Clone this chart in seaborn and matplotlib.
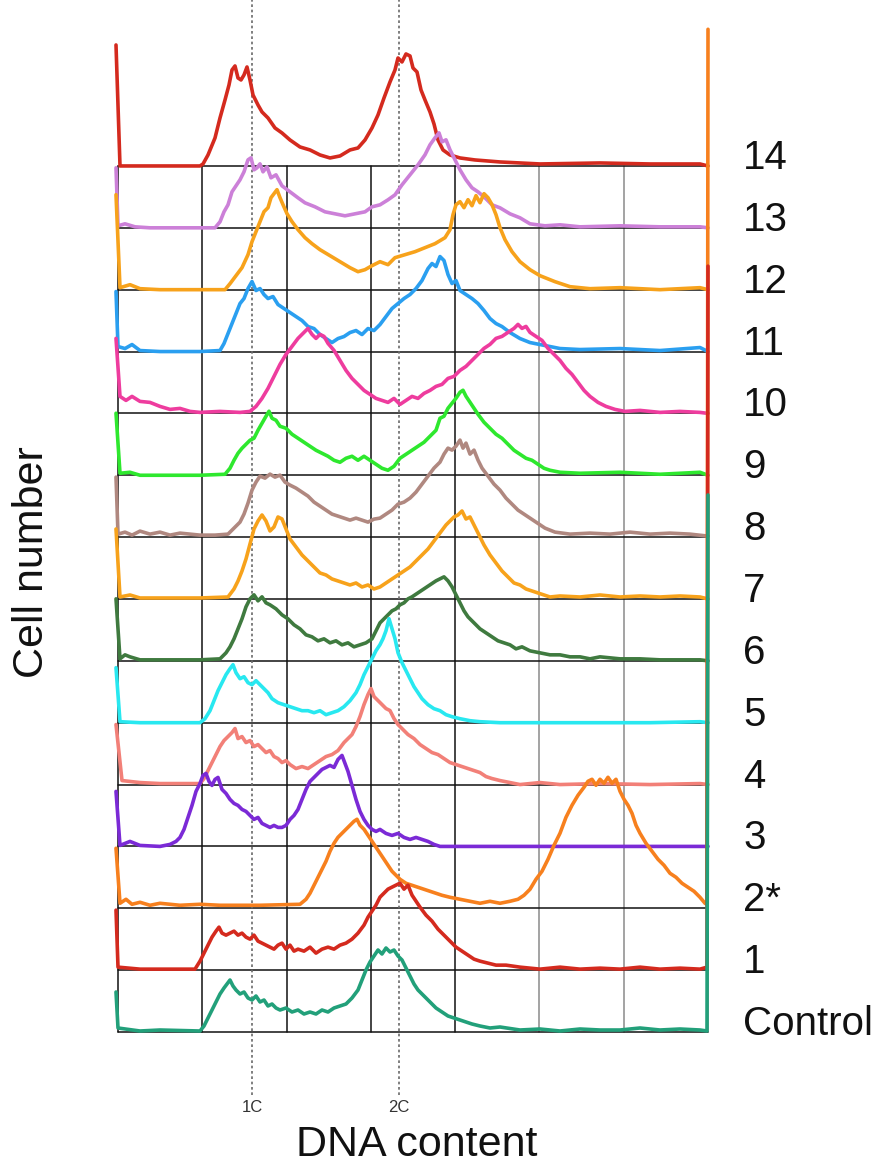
import numpy as np
import pandas as pd
import matplotlib
matplotlib.use("Agg")
import matplotlib.pyplot as plt
import seaborn as sns

# DNA-content histograms (channel, cell count) for each sample
control = [(-2, 40), (0, 4), (22, 1), (42, 2), (82, 1), (86, 6), (90, 14), (94, 22), (98, 30), (102, 38), (106, 44),
           (109, 48), (112, 52), (115, 46), (118, 42), (122, 38), (126, 40), (130, 34), (134, 32), (138, 36),
           (142, 30), (146, 32), (150, 26), (154, 28), (158, 24), (162, 22), (168, 24), (174, 20), (180, 22),
           (186, 18), (192, 20), (198, 18), (204, 22), (210, 20), (216, 24), (222, 26), (228, 28), (234, 34),
           (240, 42), (244, 52), (248, 62), (252, 70), (256, 76), (260, 82), (264, 78), (268, 84), (272, 80),
           (276, 82), (280, 76), (284, 72), (288, 64), (292, 56), (296, 48), (300, 42), (306, 36), (312, 30),
           (318, 24), (324, 20), (330, 16), (336, 14), (342, 12), (348, 10), (354, 8), (362, 6), (372, 4),
           (382, 5), (402, 2), (422, 3), (442, 1), (462, 3), (482, 2), (502, 2), (522, 4), (542, 2), (562, 3),
           (582, 2), (589, 1), (590, 537)]

cell_1 = [(-2, 60), (0, 3), (22, 1), (77, 1), (82, 9), (86, 17), (90, 25), (94, 33), (98, 39), (101, 43), (104, 37),
          (108, 35), (112, 37), (116, 39), (120, 35), (124, 37), (128, 33), (132, 31), (136, 35), (140, 29),
          (144, 27), (148, 25), (152, 23), (156, 21), (160, 25), (164, 27), (168, 21), (172, 25), (176, 19),
          (180, 21), (186, 19), (192, 23), (198, 17), (204, 21), (210, 23), (216, 21), (222, 25), (228, 27),
          (234, 31), (240, 37), (246, 45), (250, 53), (254, 59), (258, 65), (262, 73), (266, 77), (270, 81),
          (274, 83), (278, 85), (282, 87), (286, 81), (290, 85), (294, 75), (298, 69), (302, 63), (308, 55),
          (314, 49), (320, 41), (326, 35), (332, 29), (338, 23), (344, 19), (350, 15), (356, 11), (362, 9),
          (370, 7), (378, 5), (388, 5), (402, 3), (422, 1), (442, 3), (462, 1), (482, 2), (502, 1), (522, 3),
          (542, 1), (562, 2), (582, 1), (589, 3), (590, 704)]

cell_2 = [(-2, 60), (2, 5), (8, 9), (14, 4), (22, 6), (32, 3), (42, 5), (62, 3), (82, 4), (102, 3), (142, 3),
          (182, 4), (188, 9), (192, 15), (196, 23), (200, 31), (204, 39), (208, 47), (212, 57), (216, 65),
          (220, 71), (224, 75), (228, 79), (232, 83), (236, 87), (239, 89), (242, 83), (246, 79), (250, 73),
          (254, 67), (258, 61), (262, 55), (266, 49), (270, 43), (274, 37), (278, 33), (282, 29), (288, 25),
          (294, 23), (300, 21), (306, 19), (312, 17), (318, 15), (324, 13), (332, 11), (342, 9), (352, 7),
          (362, 5), (372, 7), (382, 5), (392, 7), (400, 9), (406, 13), (412, 19), (418, 29), (424, 37),
          (430, 49), (436, 63), (442, 75), (448, 91), (454, 103), (460, 113), (466, 121), (470, 127),
          (474, 129), (478, 123), (482, 129), (486, 125), (490, 131), (494, 125), (498, 129), (502, 117),
          (506, 109), (510, 103), (514, 95), (518, 83), (522, 75), (528, 65), (534, 57), (540, 49), (546, 43),
          (552, 35), (558, 31), (564, 25), (570, 21), (576, 17), (582, 11), (587, 5), (589, 4), (590, 879)]

cell_3 = [(-2, 55), (2, 1), (12, 5), (22, 1), (42, 0), (52, 2), (58, 5), (62, 9), (66, 17), (70, 29), (74, 41),
          (78, 55), (82, 63), (85, 71), (88, 73), (91, 65), (94, 61), (97, 67), (100, 69), (104, 57), (108, 53),
          (112, 47), (116, 43), (120, 41), (124, 37), (128, 35), (132, 31), (136, 27), (140, 29), (144, 23),
          (148, 21), (152, 19), (156, 21), (160, 19), (164, 19), (168, 21), (172, 27), (176, 31), (180, 37),
          (184, 47), (188, 57), (192, 65), (196, 69), (200, 73), (204, 77), (208, 79), (212, 81), (216, 79),
          (220, 87), (224, 91), (227, 83), (230, 75), (234, 61), (238, 47), (242, 35), (246, 27), (250, 21),
          (254, 17), (258, 15), (262, 17), (268, 13), (274, 11), (280, 13), (286, 9), (292, 7), (298, 9),
          (304, 7), (310, 5), (316, 2), (322, 0), (382, 0), (442, 0), (502, 0), (542, 0), (582, 0), (590, 0)]

cell_4 = [(-2, 60), (4, 4), (22, 2), (42, 1), (82, 1), (86, 6), (90, 14), (94, 22), (98, 30), (102, 38), (106, 44),
          (110, 48), (114, 52), (117, 56), (120, 46), (124, 48), (128, 42), (132, 44), (136, 38), (140, 40),
          (144, 36), (148, 32), (152, 34), (156, 28), (160, 26), (164, 22), (168, 24), (172, 20), (178, 16),
          (184, 18), (190, 16), (196, 20), (202, 24), (208, 28), (214, 30), (220, 34), (226, 42), (230, 46),
          (234, 50), (238, 58), (242, 68), (246, 80), (250, 90), (253, 96), (256, 88), (260, 84), (264, 80),
          (268, 76), (272, 74), (276, 66), (280, 60), (284, 56), (290, 50), (296, 46), (302, 40), (308, 36),
          (314, 32), (320, 30), (326, 26), (332, 22), (338, 20), (344, 18), (350, 16), (356, 14), (362, 12),
          (368, 8), (374, 6), (382, 4), (392, 2), (402, 0), (422, 2), (442, 0), (482, 1), (532, 0), (582, 1),
          (590, 0)]

cell_5 = [(-2, 55), (2, 1), (22, 0), (82, 0), (87, 4), (92, 12), (96, 22), (100, 32), (104, 40), (108, 48),
          (112, 54), (115, 58), (118, 50), (122, 44), (126, 46), (130, 40), (134, 38), (138, 42), (142, 38),
          (146, 34), (150, 30), (154, 24), (160, 20), (166, 18), (172, 16), (178, 14), (184, 12), (190, 12),
          (196, 10), (202, 12), (208, 8), (214, 10), (220, 12), (226, 16), (232, 22), (238, 30), (242, 38),
          (246, 48), (250, 56), (254, 64), (258, 72), (262, 78), (265, 84), (268, 92), (271, 104), (274, 94),
          (277, 84), (280, 70), (284, 60), (288, 52), (292, 44), (296, 36), (300, 30), (304, 24), (310, 18),
          (316, 14), (322, 12), (328, 8), (334, 6), (342, 4), (352, 2), (362, 1), (382, 0), (422, 0), (482, 0),
          (532, 0), (582, 1), (590, 0)]

cell_6 = [(-2, 62), (2, 2), (7, 6), (12, 4), (22, 1), (82, 1), (102, 2), (108, 8), (112, 14), (116, 22), (120, 32),
          (124, 42), (128, 54), (132, 62), (136, 66), (140, 60), (144, 64), (148, 58), (152, 56), (158, 52),
          (164, 46), (170, 42), (176, 36), (182, 32), (188, 26), (194, 24), (200, 20), (206, 22), (212, 18),
          (218, 20), (224, 16), (230, 18), (236, 14), (242, 16), (248, 18), (254, 22), (258, 30), (262, 38),
          (266, 42), (270, 46), (274, 50), (278, 52), (282, 56), (286, 58), (290, 62), (294, 64), (300, 68),
          (306, 72), (312, 76), (318, 80), (322, 82), (326, 84), (330, 80), (334, 74), (338, 66), (342, 58),
          (346, 50), (350, 44), (356, 38), (362, 32), (368, 28), (374, 24), (380, 20), (386, 18), (392, 16),
          (398, 12), (404, 14), (412, 10), (422, 8), (432, 6), (442, 6), (452, 4), (462, 4), (472, 2), (482, 4),
          (502, 2), (522, 2), (542, 1), (582, 1), (590, 0)]

cell_7 = [(-2, 70), (2, 2), (12, 4), (22, 1), (82, 1), (110, 2), (116, 10), (120, 18), (124, 28), (128, 40),
          (132, 55), (136, 70), (140, 78), (144, 84), (148, 78), (152, 68), (156, 72), (160, 82), (164, 80),
          (168, 70), (172, 60), (178, 52), (184, 44), (190, 38), (196, 32), (202, 26), (208, 24), (214, 20),
          (220, 18), (226, 16), (232, 14), (238, 16), (244, 12), (250, 14), (256, 10), (262, 12), (268, 16),
          (274, 20), (280, 24), (286, 28), (292, 32), (298, 38), (304, 44), (310, 50), (316, 58), (322, 66),
          (328, 74), (332, 78), (336, 82), (340, 84), (344, 88), (348, 80), (352, 82), (356, 74), (360, 66),
          (366, 54), (372, 44), (378, 36), (384, 28), (390, 22), (396, 16), (402, 14), (408, 10), (414, 8),
          (420, 6), (426, 4), (432, 2), (442, 3), (462, 2), (482, 4), (502, 2), (522, 3), (542, 2), (562, 3),
          (582, 2), (590, 0)]

cell_8 = [(-2, 60), (0, 3), (7, 5), (14, 2), (22, 6), (32, 3), (42, 5), (52, 2), (62, 4), (72, 3), (82, 2), (97, 2),
          (110, 3), (116, 9), (122, 15), (126, 23), (130, 34), (134, 47), (138, 55), (142, 61), (147, 59),
          (152, 63), (157, 60), (162, 62), (167, 55), (172, 52), (178, 49), (184, 45), (190, 41), (196, 35),
          (202, 31), (208, 27), (214, 23), (220, 21), (226, 19), (232, 17), (238, 19), (244, 17), (250, 15),
          (256, 18), (262, 19), (268, 23), (274, 27), (280, 33), (286, 35), (292, 39), (298, 45), (304, 53),
          (310, 61), (316, 69), (322, 75), (326, 83), (330, 89), (334, 87), (338, 91), (342, 97), (345, 89),
          (348, 94), (352, 83), (356, 87), (360, 77), (364, 69), (370, 61), (376, 53), (382, 47), (388, 39),
          (394, 33), (400, 27), (406, 23), (412, 19), (418, 15), (427, 9), (437, 5), (452, 3), (472, 4),
          (492, 3), (512, 5), (532, 3), (552, 4), (572, 3), (590, 1)]

cell_9 = [(-2, 62), (2, 2), (12, 3), (22, 0), (82, 0), (107, 1), (112, 7), (116, 15), (120, 22), (124, 27),
          (128, 31), (132, 35), (136, 37), (140, 45), (144, 52), (148, 59), (151, 64), (154, 57), (158, 55),
          (162, 49), (168, 47), (174, 41), (180, 37), (186, 33), (192, 29), (198, 25), (204, 22), (210, 19),
          (216, 15), (222, 13), (228, 17), (234, 19), (240, 15), (246, 19), (252, 15), (258, 11), (264, 7),
          (270, 5), (276, 9), (282, 17), (288, 21), (294, 25), (300, 29), (306, 33), (312, 39), (318, 45),
          (322, 57), (326, 59), (330, 67), (334, 72), (338, 77), (342, 83), (345, 85), (348, 79), (352, 73),
          (356, 67), (360, 61), (366, 53), (372, 47), (378, 41), (384, 37), (390, 31), (396, 25), (402, 21),
          (408, 17), (414, 15), (420, 11), (426, 7), (432, 5), (442, 3), (462, 2), (502, 3), (542, 1),
          (582, 3), (590, 0)]

cell_10 = [(-2, 75), (2, 17), (8, 13), (14, 17), (22, 12), (32, 11), (42, 7), (52, 4), (62, 5), (72, 2), (82, 1),
           (102, 2), (122, 1), (132, 2), (138, 7), (144, 15), (150, 25), (156, 37), (162, 49), (168, 59),
           (174, 67), (180, 75), (186, 81), (190, 85), (194, 79), (198, 75), (202, 79), (206, 77), (210, 70),
           (216, 63), (222, 53), (228, 43), (234, 35), (240, 29), (246, 23), (252, 19), (258, 15), (264, 13),
           (270, 11), (276, 15), (282, 9), (288, 13), (294, 17), (300, 15), (306, 20), (312, 23), (318, 27),
           (324, 29), (330, 35), (336, 37), (342, 43), (348, 47), (354, 53), (360, 59), (366, 65), (372, 69),
           (378, 75), (384, 77), (390, 81), (396, 85), (400, 89), (404, 85), (408, 87), (412, 81), (418, 77),
           (424, 73), (430, 65), (436, 59), (442, 53), (448, 45), (454, 39), (460, 31), (466, 23), (472, 17),
           (480, 11), (488, 7), (497, 4), (507, 2), (522, 3), (542, 1), (562, 2), (582, 1), (590, 0)]

cell_11 = [(-2, 60), (0, 5), (7, 3), (14, 7), (22, 1), (42, 0), (82, 0), (102, 1), (106, 8), (110, 18), (114, 28),
           (118, 38), (122, 48), (126, 53), (130, 63), (134, 70), (138, 61), (142, 63), (146, 57), (150, 53),
           (155, 55), (160, 47), (166, 43), (172, 39), (178, 35), (184, 31), (190, 25), (196, 23), (202, 17),
           (208, 13), (214, 9), (220, 13), (226, 15), (232, 19), (238, 21), (244, 17), (250, 23), (256, 21),
           (262, 27), (268, 35), (274, 43), (280, 48), (286, 53), (292, 57), (298, 63), (304, 71), (310, 83),
           (314, 88), (318, 85), (322, 95), (326, 91), (330, 77), (334, 68), (338, 71), (342, 61), (348, 57),
           (354, 53), (360, 48), (366, 41), (372, 33), (378, 28), (384, 25), (392, 19), (402, 13), (412, 9),
           (422, 7), (432, 5), (442, 3), (462, 2), (502, 3), (542, 1), (582, 4), (590, 0)]

cell_12 = [(-2, 95), (2, 2), (12, 5), (22, 1), (42, 0), (82, 0), (107, 0), (112, 6), (118, 14), (124, 22),
           (130, 35), (134, 48), (138, 58), (142, 68), (146, 78), (150, 82), (153, 92), (156, 96), (159, 100),
           (162, 92), (165, 85), (169, 76), (174, 68), (180, 60), (187, 52), (194, 46), (202, 40), (212, 34),
           (222, 28), (232, 22), (240, 18), (247, 20), (254, 24), (262, 28), (270, 25), (277, 32), (287, 35),
           (297, 38), (307, 42), (317, 46), (327, 52), (332, 60), (335, 75), (338, 85), (342, 88), (346, 82),
           (350, 90), (354, 84), (358, 94), (362, 87), (366, 96), (370, 92), (374, 85), (378, 75), (382, 62),
           (387, 50), (394, 38), (402, 28), (412, 20), (422, 14), (437, 8), (452, 3), (472, 1), (502, 2),
           (542, 0), (582, 2), (590, 0)]

cell_13 = [(-2, 60), (0, 2), (7, 4), (17, 1), (32, 0), (82, 0), (97, 0), (102, 6), (106, 16), (110, 23), (114, 36),
           (118, 42), (122, 48), (126, 56), (130, 68), (133, 70), (136, 58), (139, 60), (142, 64), (145, 56),
           (149, 61), (153, 50), (158, 53), (164, 42), (172, 36), (180, 30), (187, 25), (197, 21), (207, 16),
           (217, 14), (227, 12), (237, 14), (247, 16), (254, 21), (262, 23), (270, 28), (277, 33), (284, 43),
           (292, 53), (300, 63), (307, 73), (312, 83), (317, 90), (321, 95), (324, 86), (328, 88), (332, 78),
           (337, 68), (342, 58), (348, 48), (354, 40), (360, 36), (367, 30), (374, 23), (382, 20), (392, 14),
           (402, 10), (412, 4), (427, 2), (442, 3), (462, 1), (502, 2), (542, 1), (582, 1), (590, 0)]

cell_14 = [(-2, 121), (2, 0), (32, 0), (82, 0), (85, 2), (90, 11), (97, 28), (102, 48), (107, 66), (111, 81),
           (114, 96), (117, 100), (120, 88), (123, 86), (126, 91), (129, 99), (132, 86), (135, 71), (140, 61),
           (144, 54), (150, 48), (157, 38), (164, 33), (172, 26), (182, 19), (192, 16), (202, 11), (212, 8),
           (222, 10), (232, 16), (240, 18), (247, 26), (254, 38), (260, 51), (266, 68), (272, 84), (277, 96),
           (280, 108), (284, 104), (288, 112), (292, 110), (295, 98), (299, 94), (303, 76), (307, 66),
           (312, 54), (316, 42), (320, 26), (325, 16), (332, 11), (342, 8), (357, 6), (382, 4), (422, 2),
           (482, 3), (532, 2), (582, 2), (590, 0)]

samples = ["Control", "1", "2*", "3", "4", "5", "6", "7", "8", "9", "10", "11", "12", "13", "14"]
profiles = [control, cell_1, cell_2, cell_3, cell_4, cell_5, cell_6, cell_7, cell_8, cell_9,
            cell_10, cell_11, cell_12, cell_13, cell_14]
colors = ["#22a07a", "#d42a1e", "#f7801e", "#7b2ad6", "#f28078", "#28e8f0", "#3f7a3f", "#f7a21b",
          "#b08880", "#2ee82e", "#ee3c9e", "#2a9ff0", "#f7a21b", "#cc80d8", "#d42a1e"]
ploidy_marks = {"1C": 134, "2C": 281}

# vertical offset between stacked histograms (in count units)
STEP = 61.86
CH_MAX = 590

records = []
for i, (name, prof) in enumerate(zip(samples, profiles)):
    for ch, n in prof:
        records.append((name, ch, n + i * STEP))
df = pd.DataFrame(records, columns=["sample", "channel", "level"])

sns.set_theme(style="white")
plt.rcParams["font.family"] = ["Liberation Sans", "DejaVu Sans"]

fig = plt.figure(figsize=(8.85, 11.76), dpi=100)
ax = fig.add_axes([100 / 885, 76 / 1176, 620 / 885, 1100 / 1176])

# background grid: one box row per sample, seven channel bins
top = (len(samples) - 1) * STEP
grid_x = np.linspace(0, CH_MAX, 8)
for k, gx in enumerate(grid_x):
    ax.plot([gx, gx], [0, top], color="#111111" if k < 5 else "#8a8a8a", lw=1.1, zorder=1)
for i in range(len(samples)):
    ax.plot([0, CH_MAX], [i * STEP, i * STEP], color="#111111", lw=1.1, zorder=1)

# 1C / 2C reference positions
for lab, pos in ploidy_marks.items():
    ax.plot([pos, pos], [-63, 1032], color="#6a6a6a", lw=1.2, ls=(0, (1.6, 1.6)), zorder=2)
    ax.text(pos, -76, lab, ha="center", va="center", fontsize=12, color="#333333", clip_on=False)

sns.lineplot(data=df, x="channel", y="level", hue="sample", hue_order=samples[::-1],
             palette=dict(zip(samples, colors)), estimator=None, sort=False,
             legend=False, lw=2.6, ax=ax, zorder=3)

for i, name in enumerate(samples):
    ax.text(625, i * STEP + 8, name, ha="left", va="center", fontsize=29, color="#111111",
            clip_on=False)

ax.set_xlim(-18, 602)
ax.set_ylim(-68, 1032)
ax.axis("off")

fig.text(417 / 885, 1 - 1145 / 1176, "DNA content", ha="center", va="center", fontsize=31,
         color="#111111")
fig.text(32 / 885, 1 - 562 / 1176, "Cell number", ha="center", va="center", rotation=90,
         fontsize=31, color="#111111")

fig.savefig("out.png", dpi=100)
